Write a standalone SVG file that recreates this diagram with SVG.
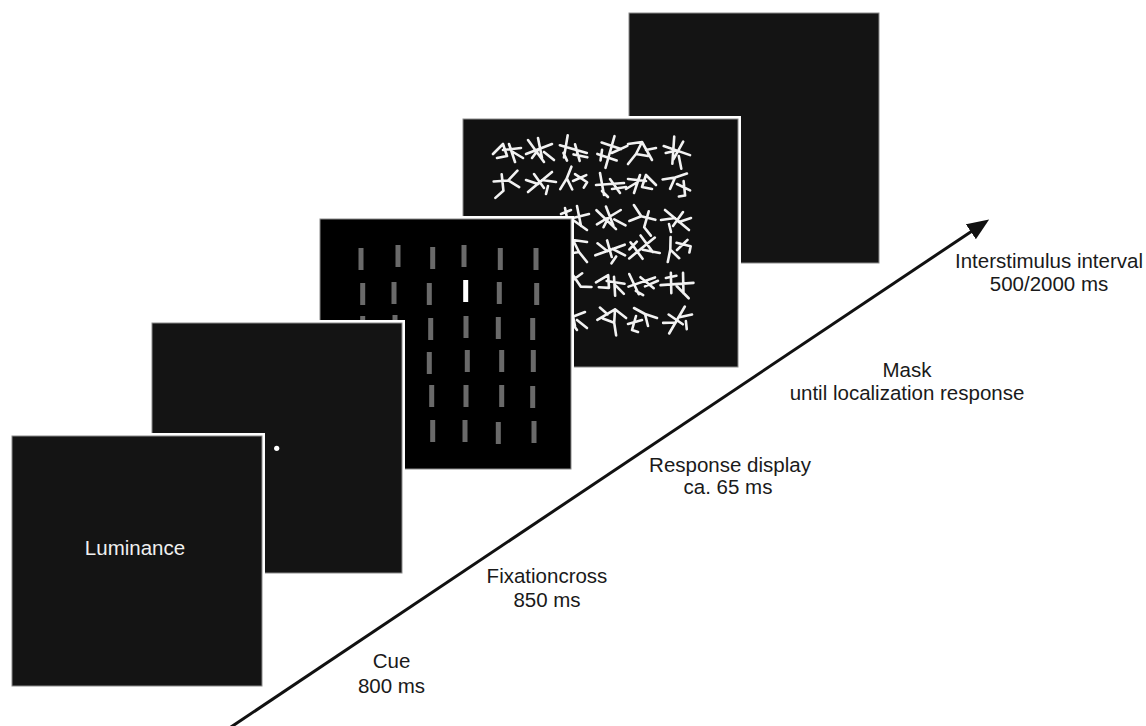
<svg xmlns="http://www.w3.org/2000/svg" xmlns:xlink="http://www.w3.org/1999/xlink" width="1146" height="726" viewBox="0 0 1146 726">
<style>
.frame{fill:#ffffff}
.panel{fill:#141414;stroke:#8a8a8a;stroke-width:1}
.bar{fill:#6a6a6a}
.scr{fill:none;stroke:#f2f2f2;stroke-width:2.6;stroke-linecap:round;stroke-linejoin:round}
.lbl{font-family:"Liberation Sans",Arial,Helvetica,sans-serif;font-size:20.5px;fill:#1a1a1a;text-anchor:middle}
.lum{font-family:"Liberation Sans",Arial,Helvetica,sans-serif;font-size:20.5px;fill:#f0f0f0;text-anchor:middle}
</style>
<defs>
<marker id="ah" markerUnits="userSpaceOnUse" markerWidth="24" markerHeight="18" viewBox="0 0 24 18" refX="1" refY="9" orient="auto">
<path d="M0,0 L22,9 L0,18 Z" fill="#111"/>
</marker>
<path id="s1" class="scr" d="M-14,2 L-4,-8 L0,4 L-10,6 M-4,-2 L14,-4 M2,-8 L8,10 M6,0 L16,6"/>
<path id="s2" class="scr" d="M-12,-10 L4,12 M-14,4 L12,-6 M-2,-12 L2,8 M4,2 L14,10 M-8,8 L-2,0"/>
<path id="s3" class="scr" d="M-15,-2 L-3,-6 L-6,6 M-3,-6 L8,-12 M0,0 L14,4 M6,-4 L10,10 L4,12"/>
<path id="s4" class="scr" d="M-10,-12 L-6,10 M-14,0 L14,-2 M0,-6 L10,8 M2,4 L16,2 M-8,6 L-2,12"/>
<path id="s5" class="scr" d="M-14,-8 L-2,-2 L-10,8 M-2,-2 L12,-6 M2,-10 L6,6 M6,6 L16,10"/>
<path id="s6" class="scr" d="M-12,10 L12,-10 M-6,-8 L4,6 M2,-2 L16,0 M-14,-2 L-2,2 M8,4 L6,12"/>
<path id="s7" class="scr" d="M-16,4 L16,-4 M-8,-10 L-4,10 M4,-12 L8,8 M0,2 L14,12 M-12,-4 L-2,-8"/>
<path id="s8" class="scr" d="M-10,8 L0,-10 L6,2 L-6,4 M0,-10 L14,-8 M6,2 L14,12 M-14,-4 L-4,-2"/>
</defs>
<rect width="1146" height="726" fill="#ffffff"/>

<g id="panel-isi">
<rect class="panel" x="629" y="13" width="250" height="250"/>
</g>

<g id="panel-mask">
<rect class="frame" x="460" y="116" width="281" height="254"/>
<rect class="panel" x="463" y="119" width="275" height="248" style="fill:#111"/>
<use href="#s1" transform="translate(507,152)"/>
<use href="#s2" transform="translate(540,150)"/>
<use href="#s4" transform="translate(573,150) rotate(20)"/>
<use href="#s7" transform="translate(610,152) rotate(-60)"/>
<use href="#s8" transform="translate(642,152) scale(-1,1)"/>
<use href="#s2" transform="translate(677,152) rotate(40)"/>
<use href="#s5" transform="translate(507,183) scale(-1,1) rotate(20)"/>
<use href="#s6" transform="translate(540,182)"/>
<use href="#s3" transform="translate(573,181) rotate(-40)"/>
<use href="#s4" transform="translate(610,185)"/>
<use href="#s1" transform="translate(642,183) scale(-1,1)"/>
<use href="#s3" transform="translate(677,184) rotate(10)"/>
<use href="#s7" transform="translate(573,218)"/>
<use href="#s2" transform="translate(610,218) rotate(-10)"/>
<use href="#s5" transform="translate(642,219) rotate(30)"/>
<use href="#s6" transform="translate(677,220) scale(-1,1)"/>
<use href="#s8" transform="translate(573,250)"/>
<use href="#s6" transform="translate(610,250) rotate(20)"/>
<use href="#s7" transform="translate(642,248) rotate(-25)"/>
<use href="#s3" transform="translate(677,250) rotate(-60)"/>
<use href="#s5" transform="translate(573,283) rotate(-20)"/>
<use href="#s1" transform="translate(610,284) rotate(15)"/>
<use href="#s4" transform="translate(642,283) rotate(-15)"/>
<use href="#s7" transform="translate(677,284) rotate(10)"/>
<use href="#s2" transform="translate(573,318)"/>
<use href="#s8" transform="translate(610,318) rotate(30)"/>
<use href="#s3" transform="translate(642,320) scale(-1,1)"/>
<use href="#s6" transform="translate(677,320) rotate(-20)"/>
</g>

<g id="panel-response">
<rect class="frame" x="317" y="216" width="257" height="256"/>
<rect class="panel" x="320" y="219" width="251" height="250" style="fill:#000"/>
<g class="bar">
<rect x="358.5" y="248" width="5" height="22"/>
<rect x="395.5" y="245" width="5" height="22"/>
<rect x="430.2" y="247" width="5" height="22"/>
<rect x="461.5" y="245" width="5" height="22"/>
<rect x="497.8" y="248" width="5" height="22"/>
<rect x="533.5" y="248" width="5" height="22"/>
<rect x="360.2" y="283" width="5" height="22"/>
<rect x="391.5" y="282" width="5" height="22"/>
<rect x="426.8" y="283" width="5" height="22"/>
<rect x="496.8" y="282" width="5" height="22"/>
<rect x="534.2" y="283" width="5" height="22"/>
<rect x="360.2" y="316" width="5" height="22"/>
<rect x="392.5" y="315" width="5" height="22"/>
<rect x="428.2" y="318" width="5" height="22"/>
<rect x="463.5" y="316" width="5" height="22"/>
<rect x="495.8" y="317" width="5" height="22"/>
<rect x="530.2" y="318" width="5" height="22"/>
<rect x="426.8" y="352" width="5" height="22"/>
<rect x="464.8" y="350" width="5" height="22"/>
<rect x="499.2" y="350" width="5" height="22"/>
<rect x="530.8" y="350" width="5" height="22"/>
<rect x="429.2" y="385" width="5" height="22"/>
<rect x="463.5" y="385" width="5" height="22"/>
<rect x="499.2" y="385" width="5" height="22"/>
<rect x="530.2" y="386" width="5" height="22"/>
<rect x="430.2" y="420" width="5" height="22"/>
<rect x="462.5" y="420" width="5" height="22"/>
<rect x="495.8" y="422" width="5" height="22"/>
<rect x="531.5" y="421" width="5" height="22"/>
</g>
<rect x="463.2" y="280" width="5" height="22" fill="#ffffff"/>
</g>

<g id="panel-fixation">
<rect class="frame" x="149" y="320" width="256" height="256"/>
<rect class="panel" x="152" y="323" width="250" height="250"/>
<circle cx="276.7" cy="448.3" r="2.6" fill="#ffffff"/>
</g>

<g id="panel-luminance">
<rect class="frame" x="9" y="433" width="256" height="256"/>
<rect class="panel" x="12" y="436" width="250" height="250"/>
<text class="lum" x="135" y="555">Luminance</text>
</g>

<g id="connectors">
<line x1="228" y1="729" x2="971.7" y2="231.2" stroke="#111" stroke-width="3" marker-end="url(#ah)"/>
</g>

<g id="labels">
<g id="label-cue"><text class="lbl" x="391.5" y="668">Cue</text><text class="lbl" x="391.5" y="692.5">800 ms</text></g>
<g id="label-fixation"><text class="lbl" x="547" y="582.5">Fixationcross</text><text class="lbl" x="547" y="606.5">850 ms</text></g>
<g id="label-response"><text class="lbl" x="730" y="471.5">Response display</text><text class="lbl" x="728" y="494">ca. 65 ms</text></g>
<g id="label-mask"><text class="lbl" x="907" y="377">Mask</text><text class="lbl" x="907" y="400">until localization response</text></g>
<g id="label-isi"><text class="lbl" x="1049" y="268">Interstimulus interval</text><text class="lbl" x="1049" y="291">500/2000 ms</text></g>
</g>
</svg>
